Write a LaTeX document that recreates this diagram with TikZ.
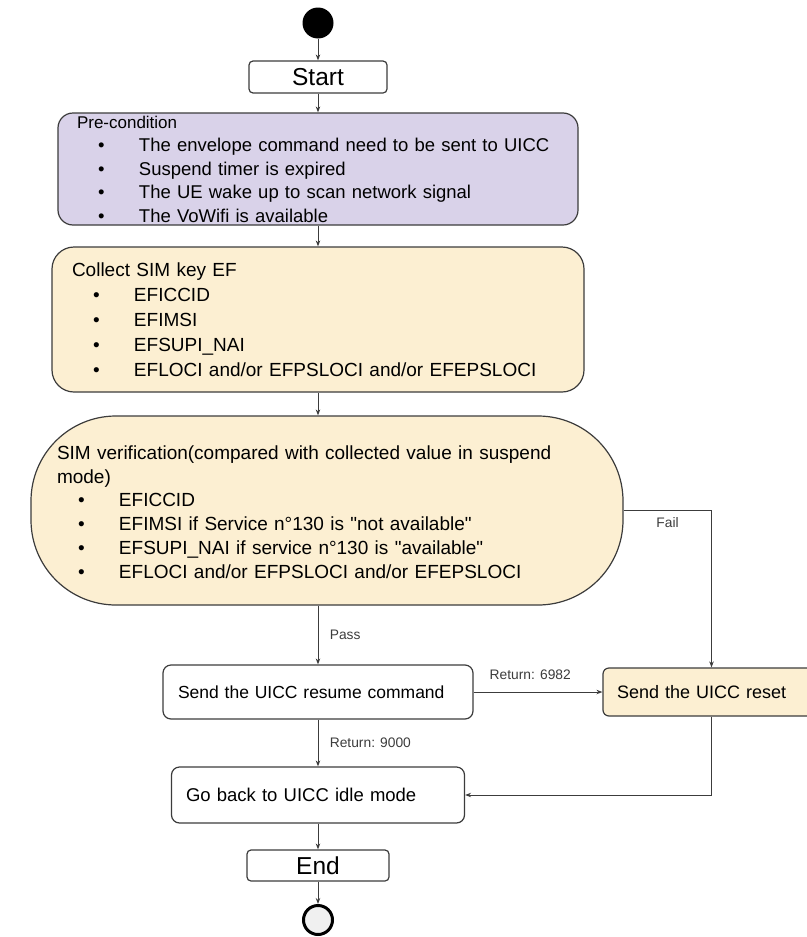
\documentclass[tikz,border=0pt]{standalone}
\usepackage{fontspec}
\setmainfont{Liberation Sans}
\usetikzlibrary{arrows.meta,positioning}
\definecolor{PreBG}{HTML}{D9D2E9}
\definecolor{StepBG}{HTML}{FCEFD2}
\definecolor{LineCol}{HTML}{3C3C3C}
\newcommand{\bitem}[1]{\hspace*{21pt}\makebox[41pt][l]{\textbullet}#1}

\begin{document}
\begin{tikzpicture}[x=1pt,y=-1pt,>={Stealth[length=6pt,width=4.5pt]}]
  \tikzstyle{flowbox}=[draw=LineCol, line width=1.2pt, rounded corners=8pt, fill=white,
               inner xsep=15pt, inner ysep=0pt, align=left, font=\fontsize{18.5}{25}\selectfont]
  \tikzstyle{termbox}=[draw=LineCol, line width=1.2pt, rounded corners=4pt, fill=white,
               inner sep=0pt, font=\fontsize{24.5}{28}\selectfont]
  \tikzstyle{edgelab}=[font=\fontsize{13.8}{16}\selectfont, text=LineCol]
  \tikzstyle{flow}=[->, draw=LineCol, line width=1pt]
  \useasboundingbox (0,0) rectangle (806,937);
  % start
  \node[circle, fill=black, minimum size=31pt, inner sep=0pt] (init) at (318,23) {};
  \node[termbox, minimum width=138pt, minimum height=32pt] (start) at (318,77) {Start};
  % pre-condition
  \node[flowbox, fill=PreBG, rounded corners=15pt, text width=482pt, inner xsep=19pt,
        minimum height=112pt, font=\fontsize{18.5}{23.5}\selectfont] (pre) at (318,169)
    {{\fontsize{17}{20}\selectfont Pre-condition}\\
     \bitem{The envelope command need to be sent to UICC}\\
     \bitem{Suspend timer is expired}\\
     \bitem{The UE wake up to scan network signal}\\
     \bitem{The VoWifi is available}};
  % collect
  \node[flowbox, fill=StepBG, rounded corners=22pt, text width=492pt, inner xsep=20pt,
        minimum height=145pt, font=\fontsize{19}{25}\selectfont] (col) at (318,319.5)
    {Collect SIM key EF\\
     \bitem{EFICCID}\\
     \bitem{EFIMSI}\\
     \bitem{EFSUPI\_NAI}\\
     \bitem{EFLOCI and/or EFPSLOCI and/or EFEPSLOCI}};
  % verification
  \node[flowbox, fill=StepBG, rounded corners=85pt, minimum width=592pt,
        minimum height=189pt] (sim) at (327,510.5) {};
  \node[align=left, inner sep=0pt, text width=540pt, font=\fontsize{19}{23.8}\selectfont]
    (simtext) at (327,512)
    {SIM verification(compared with collected value in suspend\\
     mode)\\
     \bitem{EFICCID}\\
     \bitem{EFIMSI if Service n°130 is \textquotedbl not available\textquotedbl}\\
     \bitem{EFSUPI\_NAI if service n°130 is \textquotedbl available\textquotedbl}\\
     \bitem{EFLOCI and/or EFPSLOCI and/or EFEPSLOCI}};
  % resume, reset, idle
  \node[flowbox, text width=280pt, minimum height=54pt, font=\fontsize{17.5}{22}\selectfont]
    (res) at (318,692) {Send the UICC resume command};
  \node[flowbox, fill=StepBG, text width=189pt, inner xsep=14pt, minimum height=48pt,
        rounded corners=6pt, font=\fontsize{18}{22}\selectfont]
    (reset) at (711.5,692) {Send the UICC reset};
  \node[flowbox, text width=264pt, inner xsep=14.5pt, minimum height=56pt]
    (idle) at (318,795) {Go back to UICC idle mode};
  % end
  \node[termbox, minimum width=142pt, minimum height=31pt] (end) at (318,865.5) {End};
  \node[circle, draw=black, line width=3pt, fill=gray!12, minimum size=29pt, inner sep=0pt] (final) at (318,920) {};
  % connectors
  \draw[flow] (init) -- (start);
  \draw[flow] (start) -- (pre);
  \draw[flow] (pre) -- (col);
  \draw[flow] (col) -- (col.south |- sim.north);
  \draw[flow] (col.south |- sim.south) -- node[edgelab, right=8pt] {Pass} (res);
  \draw[flow] (sim.east) -| node[edgelab, below=3pt, pos=0.25] {Fail} (reset.north);
  \draw[flow] (res) -- node[edgelab, above=9pt, pos=0.44] {Return: 6982} (reset);
  \draw[flow] (res) -- node[edgelab, right=8pt] {Return: 9000} (idle);
  \draw[flow] (reset.south) |- (idle.east);
  \draw[flow] (idle) -- (end);
  \draw[flow] (end) -- (final);
\end{tikzpicture}
\end{document}
